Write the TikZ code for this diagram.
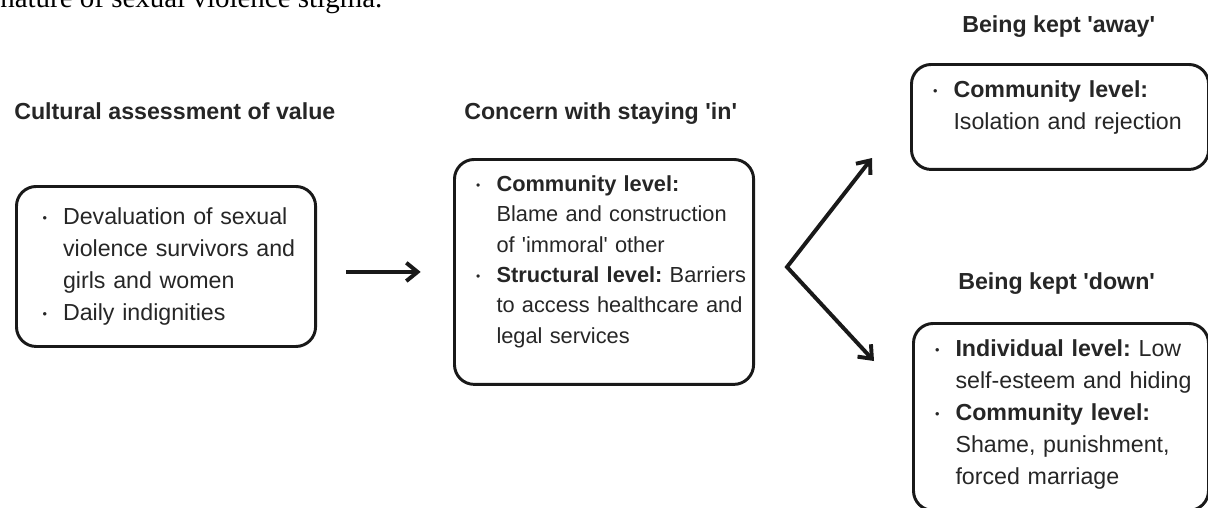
\documentclass[tikz,border=0pt]{standalone}
\usepackage{fontspec}
\setmainfont{Liberation Sans}
\newfontfamily\serifcap{Liberation Serif}
\frenchspacing
\usepackage{tikz}
\usetikzlibrary{arrows.meta}
\tikzstyle{box} = [rectangle, rounded corners=14pt, draw=black!90, line width=2.1pt, anchor=north west, text=black!85, inner xsep=3pt, inner ysep=11.4pt, font=\fontsize{16.5pt}{22.8pt}\selectfont]
\tikzstyle{head} = [anchor=base west, inner sep=0pt, text=black!85, font=\fontsize{16.5pt}{20pt}\selectfont\bfseries]
\tikzstyle{arrow} = [line width=2.8pt, draw=black!90, >={Straight Barb[length=8pt,width=13pt]}, ->]

% bullet with hanging indent (bfirst opens the list, bitem starts the next point)
\newcommand{\bfirst}{\rightskip=-6pt plus 1fil\hyphenpenalty=10000\hangindent=26.9pt\hangafter=1\noindent\makebox[26.9pt][l]{\hspace{12.4pt}\raisebox{1.3pt}{\scalebox{0.55}{\textbullet}}}}
\newcommand{\bitem}{\par\bfirst}
% extra depth below the last line
\newcommand{\boxfoot}[1]{\rule[-#1]{0pt}{0pt}\par}
\newcommand{\apos}{\textquotesingle}

\begin{document}
\begin{tikzpicture}[x=0.025cm, y=-0.025cm]
\useasboundingbox (0,0) rectangle (1208,507);
\clip (0,0) rectangle (1208,507);

\node (prev) [anchor=base west, inner sep=0pt, font=\fontsize{20.6pt}{24pt}\serifcap] at (0,7) {nature of sexual violence stigma.};

\node (hvalue) [head] at (14,119) {Cultural assessment of value};
\node (hin) [head] at (464,119) {Concern with staying \apos in\apos};
\node (haway) [head] at (962,32) {Being kept \apos away\apos};
\node (hdown) [head] at (958,289) {Being kept \apos down\apos};

\node (value) [box, inner xsep=6.2pt, inner ysep=15pt, text width=200.3pt] at (15,185) {%
\bfirst Devaluation of sexual\newline violence survivors and\newline girls and women
\bitem Daily indignities\boxfoot{3.4pt}};
\node (in) [box, text width=206.7pt, font=\fontsize{15.5pt}{21.6pt}\selectfont] at (453,158) {%
\bfirst \textbf{Community level:}\newline Blame and construction\newline of \apos immoral\apos{} other
\bitem \textbf{Structural level:} Barriers\newline to access healthcare and\newline legal services\boxfoot{17.9pt}};
\node (away) [box, text width=205.3pt] at (910,63) {%
\bfirst \textbf{Community level:}\newline Isolation and rejection\boxfoot{17.1pt}};
\node (down) [box, text width=203.8pt] at (912,322) {%
\bfirst \textbf{Individual level:} Low\newline self-esteem and hiding
\bitem \textbf{Community level:}\newline Shame, punishment,\newline forced marriage\boxfoot{7pt}};

\coordinate (fork) at (787,267);
\coordinate (awayend) at (872,158);
\coordinate (downend) at (874,361);

\draw [arrow, shorten <=20.6pt, shorten >=23pt] (value.east |- in.west) -- (in.west);
\draw [arrow, <->] (awayend) -- (fork) -- (downend);
\end{tikzpicture}
\end{document}
